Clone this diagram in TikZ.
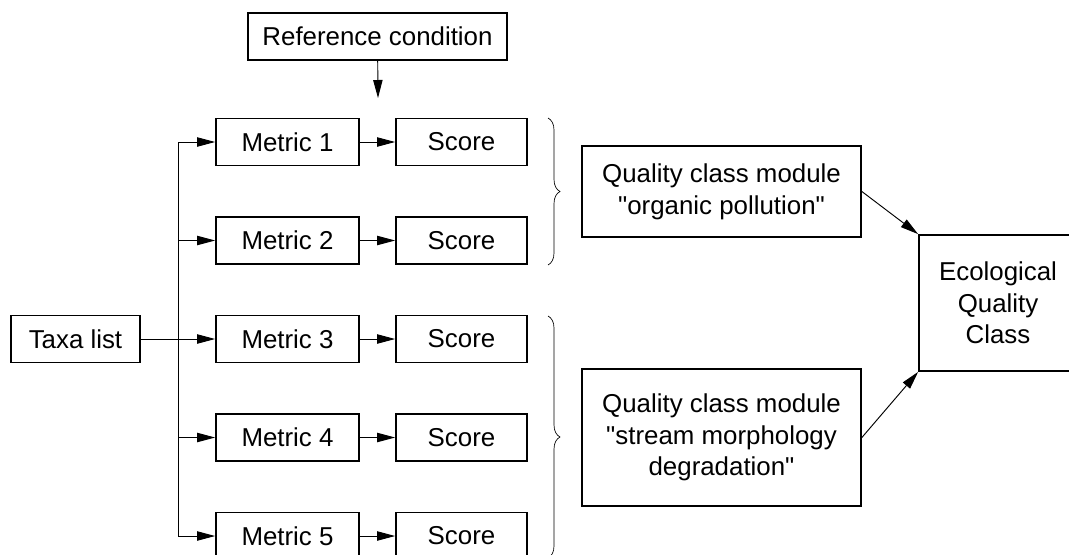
\documentclass[tikz,border=0pt]{standalone}
\usepackage{fontspec}
\setmainfont{Liberation Sans}
\usetikzlibrary{arrows.meta,decorations.pathreplacing}

\begin{document}
\begin{tikzpicture}[x=0.75pt,y=0.75pt,yscale=-1,xscale=1,
  box/.style={draw, line width=1.3pt, inner sep=0pt, align=center, font=\fontsize{19.4}{23.8}\selectfont},
  metric/.style={box, minimum width=107.25pt, minimum height=35.25pt},
  score/.style={box, minimum width=98.25pt, minimum height=35.25pt},
  module/.style={box, minimum width=209.25pt},
  link/.style={line width=0.7pt},
  arr/.style={link, -{Triangle[length=13.5pt,width=7pt]}},
  brc/.style={line width=0.5pt, decorate, decoration={brace, amplitude=9pt}}]
\useasboundingbox (0,0) rectangle (1069,554);
\clip (0,0) rectangle (1069,554);
% inputs
\node [box, minimum width=194.25pt, minimum height=35.25pt] (ref) at (377.5,36.5) {Reference condition};
\node [box, minimum width=96.75pt, minimum height=35.25pt] (taxa) at (75.5,339) {Taxa list};
\coordinate (refend) at (378,98);
\coordinate (trunk) at (178,339);
% metrics and scores
\node [metric] (m1) at (287.5,142) {Metric 1};
\node [metric] (m2) at (287.5,240.5) {Metric 2};
\node [metric] (m3) at (287.5,339) {Metric 3};
\node [metric] (m4) at (287.5,437.5) {Metric 4};
\node [metric] (m5) at (287.5,536) {Metric 5};
\node [score] (s1) at (461.5,142) {Score};
\node [score] (s2) at (461.5,240.5) {Score};
\node [score] (s3) at (461.5,339) {Score};
\node [score] (s4) at (461.5,437.5) {Score};
\node [score] (s5) at (461.5,536) {Score};
% modules
\node [module, minimum height=68.25pt] (qm1) at (721.5,191.5) {Quality class module\\\textquotedbl organic pollution\textquotedbl};
\node [module, minimum height=102.75pt] (qm2) at (721.5,437.5) {Quality class module\\\textquotedbl stream morphology\\degradation\textquotedbl};
\node [box, minimum width=118.5pt, minimum height=102pt] (eqc) at (998,303) {Ecological\\Quality\\Class};
% connectors
\draw [arr] (ref) -- (refend);
\draw [link] (trunk |- m1.west) -- (trunk |- m5.west);
\draw [arr] (taxa) -- (m3);
\draw [arr] (trunk |- m1.west) -- (m1);
\draw [arr] (trunk |- m2.west) -- (m2);
\draw [arr] (trunk |- m4.west) -- (m4);
\draw [arr] (trunk |- m5.west) -- (m5);
\draw [arr] (m1) -- (s1);
\draw [arr] (m2) -- (s2);
\draw [arr] (m3) -- (s3);
\draw [arr] (m4) -- (s4);
\draw [arr] (m5) -- (s5);
\draw [arr] (qm1.east) -- (eqc.north west);
\draw [arr] (qm2.east) -- (eqc.south west);
% braces
\draw [brc] (548,118) -- (548,265);
\draw [brc] (548,316) -- (548,558);
\end{tikzpicture}
\end{document}
